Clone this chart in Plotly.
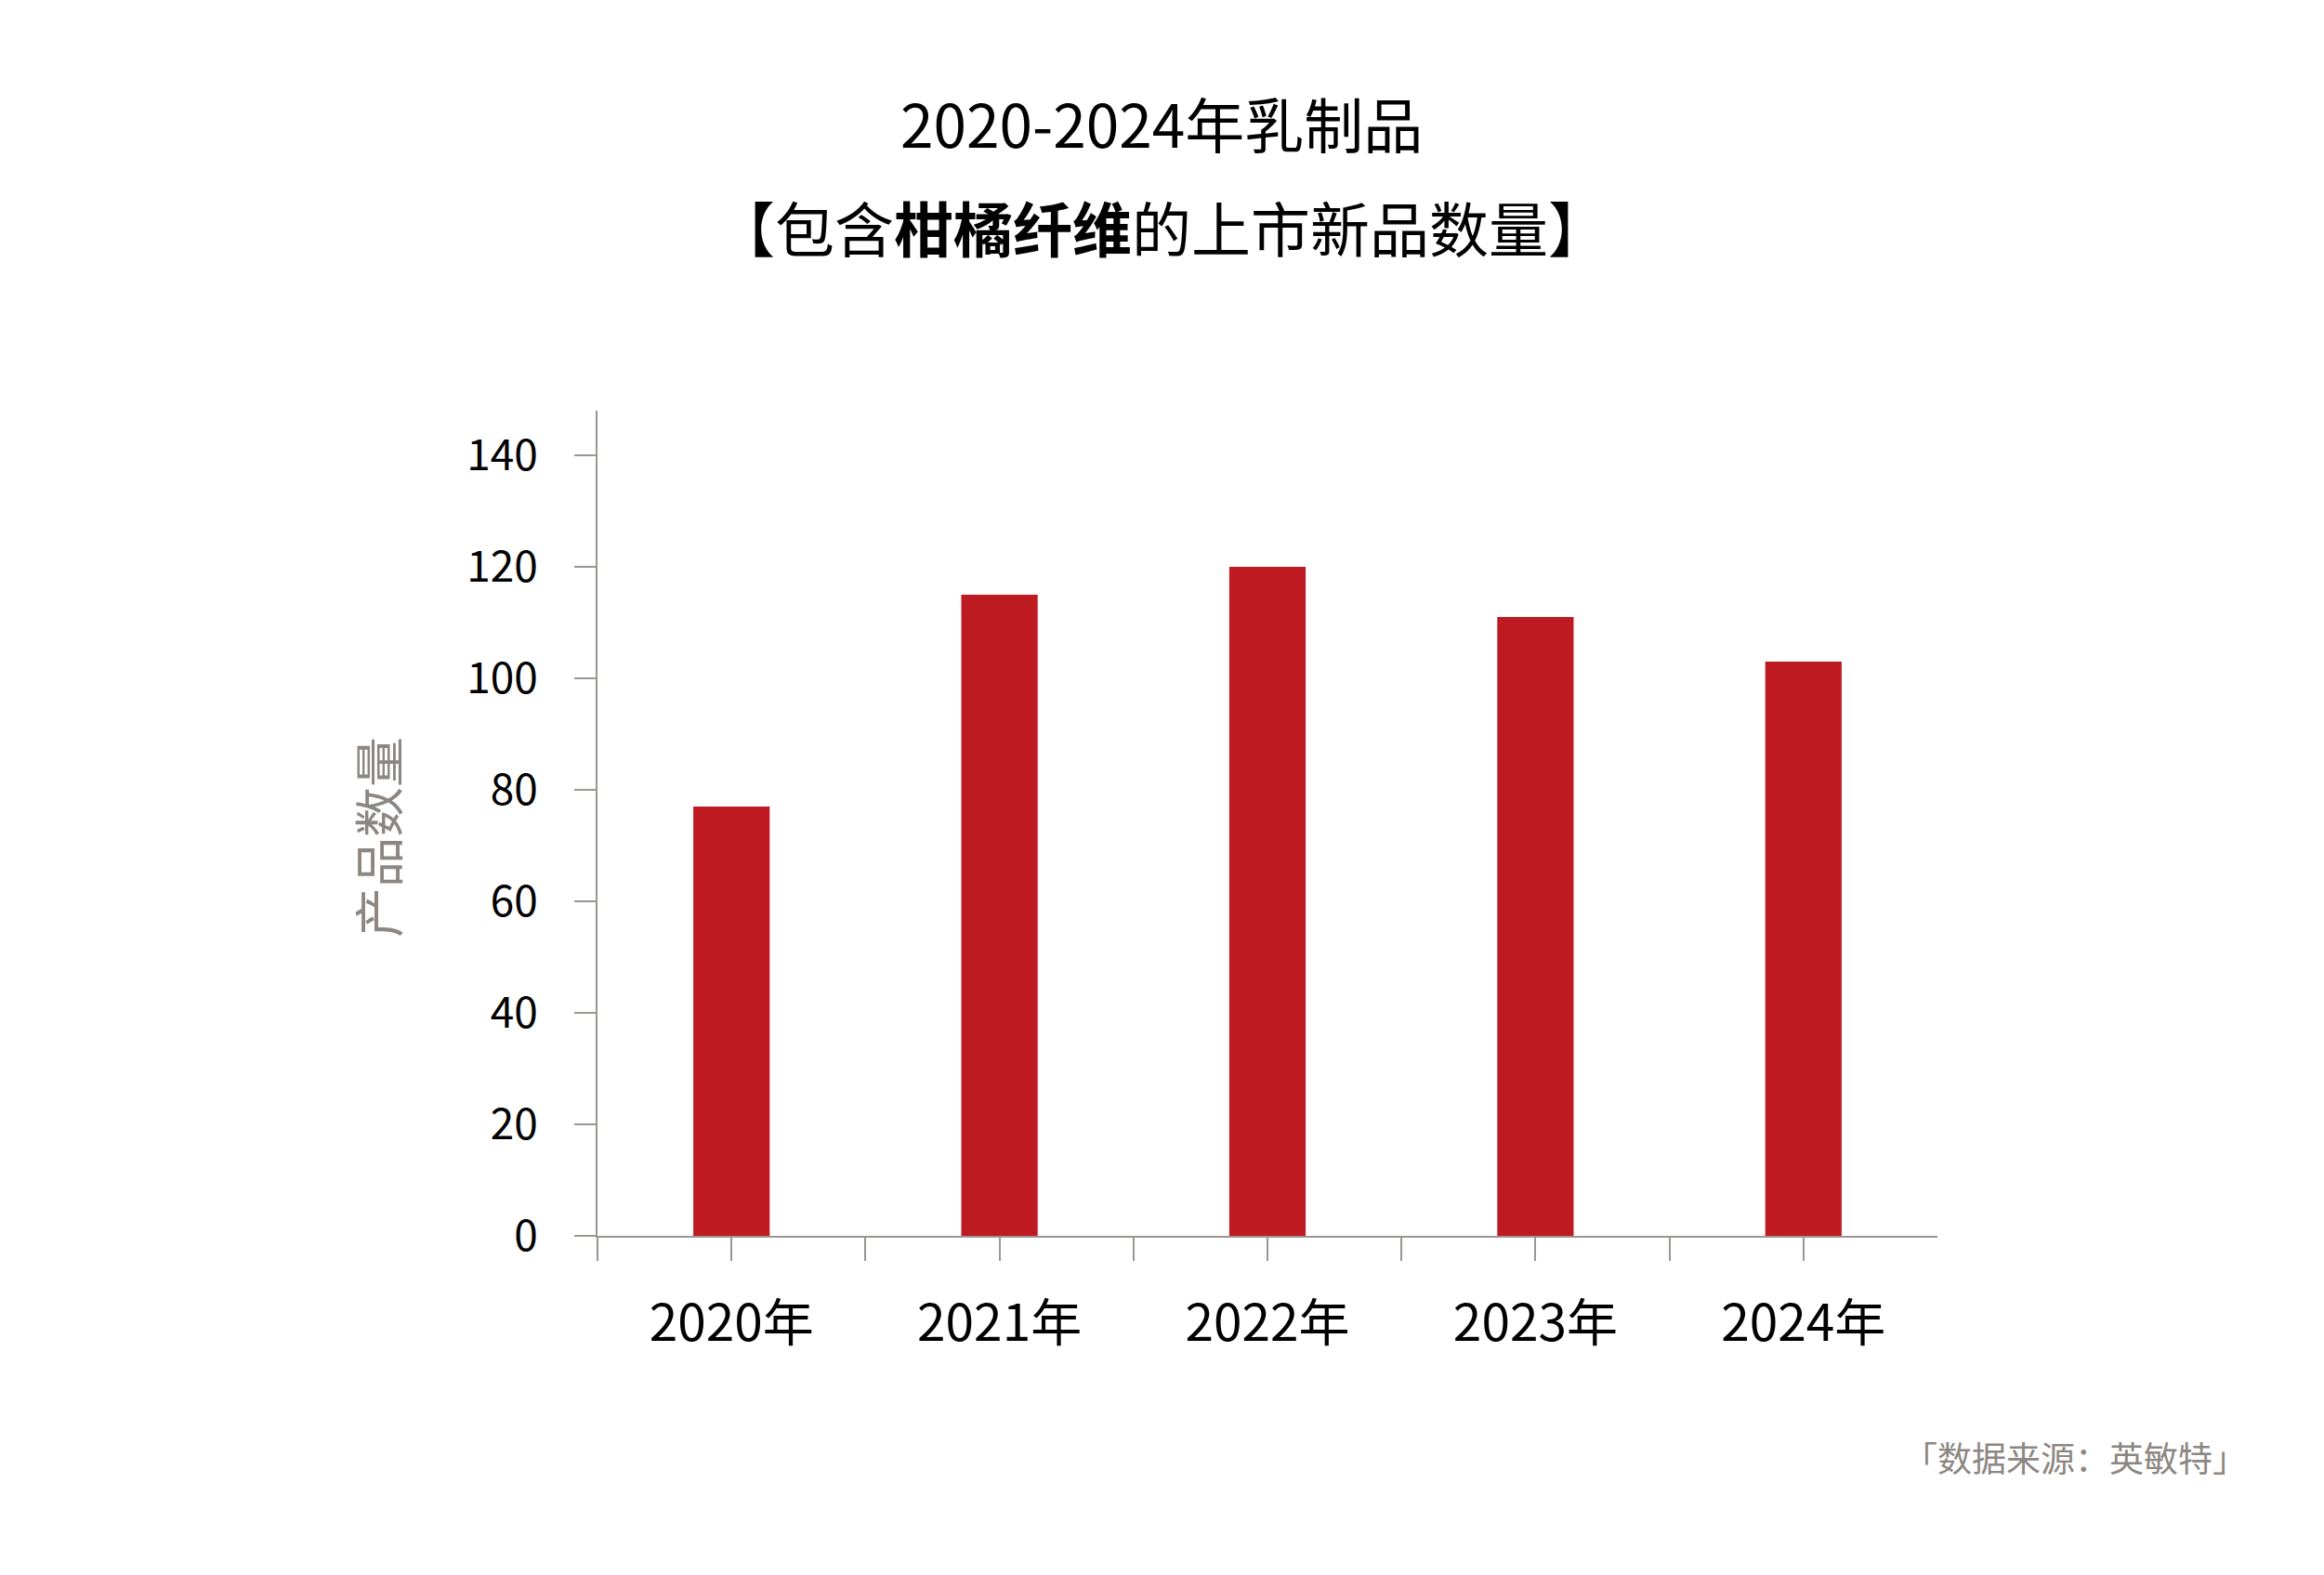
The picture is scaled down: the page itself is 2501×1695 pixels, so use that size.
import plotly.graph_objects as go

# --- DATA ---
years = ["2020年", "2021年", "2022年", "2023年", "2024年"]
counts = [77, 115, 120, 111, 103]
y_ticks = [0, 20, 40, 60, 80, 100, 120, 140]

title_line1 = "2020-2024年乳制品"
title_line2 = "【包含<b>柑橘纤维</b>的上市新品数量】"
y_title = "产品数量"
source = "「数据来源：英敏特」"

# --- STYLE ---
W, H = 2501, 1695
OFF = 8  # default page margin around the plot div
L, T = 643 - OFF, 442 - OFF
R, B = 416 + OFF, 365 + OFF
font = "Noto Sans CJK SC"
bar_color = "#BE1A21"
axis_color = "#9B9691"
gray_text = "#8C8782"

xpos = list(range(len(years)))
# ticks at category centers and at category boundaries
tickvals, ticktext = [], []
for i, yr in enumerate(years):
    tickvals += [i - 0.5, i]
    ticktext += ["", yr]

fig = go.Figure(go.Bar(
    x=xpos, y=counts,
    width=0.285,
    marker=dict(color=bar_color, line=dict(width=0)),
    hoverinfo="x+y",
))

plot_w = W - L - R
plot_h = H - T - B

def px_x(x):
    # page pixel -> paper fraction
    return (x - OFF - L) / plot_w

def px_y(y):
    return (H - B - (y - OFF)) / plot_h

fig.update_layout(
    width=W, height=H,
    margin=dict(l=L, r=R, t=T, b=B),
    paper_bgcolor="white", plot_bgcolor="white",
    font=dict(family=font, color="black"),
    showlegend=False,
    xaxis=dict(
        range=[-0.5, 4.5],
        tickmode="array", tickvals=tickvals, ticktext=ticktext,
        ticks="outside", ticklen=25, tickwidth=2, tickcolor=axis_color,
        showline=True, linecolor=axis_color, linewidth=2,
        showgrid=False, zeroline=False,
        tickfont=dict(size=55, color="black"),
        ticklabelstandoff=20,
    ),
    yaxis=dict(
        range=[0, 148],
        tickmode="array", tickvals=y_ticks,
        ticks="outside", ticklen=23, tickwidth=2, tickcolor=axis_color,
        showline=True, linecolor=axis_color, linewidth=2,
        showgrid=False, zeroline=False,
        tickfont=dict(size=46, color="black"),
        ticklabelstandoff=30,
    ),
    annotations=[
        dict(text=title_line1, x=px_x(1250), y=px_y(131), xref="paper", yref="paper",
             xanchor="center", yanchor="middle", showarrow=False,
             font=dict(size=64, color="black")),
        dict(text=title_line2, x=px_x(1250), y=px_y(243), xref="paper", yref="paper",
             xanchor="center", yanchor="middle", showarrow=False,
             font=dict(size=64, color="black")),
        dict(text=y_title, x=px_x(405), y=px_y(901), xref="paper", yref="paper",
             xanchor="center", yanchor="middle", showarrow=False, textangle=-90,
             font=dict(size=54, color=gray_text)),
        dict(text=source, x=px_x(2420), y=px_y(1568), xref="paper", yref="paper",
             xanchor="right", yanchor="middle", showarrow=False,
             font=dict(size=37, color=gray_text)),
    ],
)

fig.write_html("out.html")
